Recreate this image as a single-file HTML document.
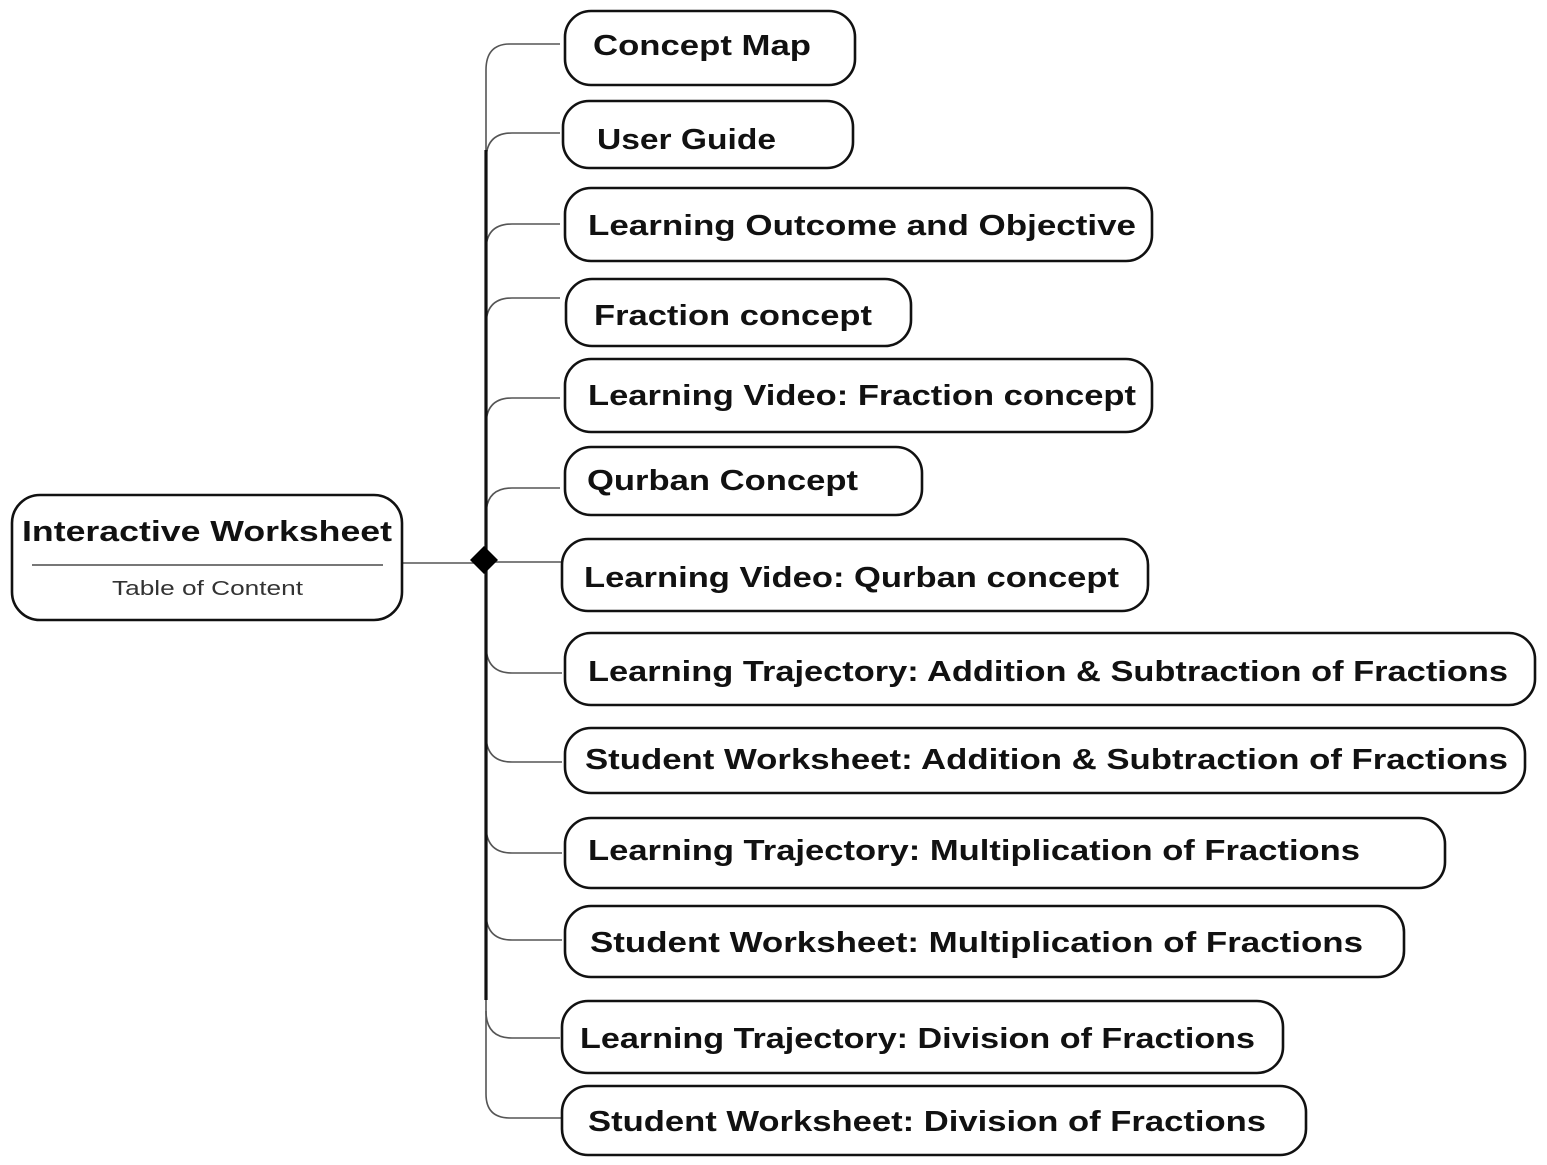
<!DOCTYPE html>
<html><head><meta charset="utf-8"><style>
html,body{margin:0;padding:0;background:#fff;width:1547px;height:1165px;overflow:hidden}
svg{display:block}
text{font-family:"Liberation Sans",sans-serif;font-weight:bold;fill:#111}
</style></head><body>
<svg width="1547" height="1165" viewBox="0 0 1547 1165" xmlns="http://www.w3.org/2000/svg">
<g fill="none" stroke="#555" stroke-width="1.6">
<path d="M560,44 L510,44 Q486,44 486,70 L486,1094 Q486,1118 510,1118 L562,1118"/>
<path d="M560,133 L512,133 Q486,133 486,160"/>
<path d="M560,224 L512,224 Q486,224 486,250"/>
<path d="M560,298 L512,298 Q486,298 486,325"/>
<path d="M560,398 L512,398 Q486,398 486,425"/>
<path d="M560,488 L512,488 Q486,488 486,515"/>
<path d="M486,645 Q486,673 512,673 L562,673"/>
<path d="M486,735 Q486,762 512,762 L562,762"/>
<path d="M486,826 Q486,853 512,853 L562,853"/>
<path d="M486,913 Q486,940 512,940 L562,940"/>
<path d="M486,1011 Q486,1038 512,1038 L560,1038"/>
<path d="M402,563 L475,563"/>
<path d="M495,562 L562,562"/>
</g>
<path d="M486,150 L486,1000" stroke="#111" stroke-width="3.2"/>
<polygon points="484,546 498,560 484,574 470,560" fill="#000"/>
<g fill="#fff" stroke="#111" stroke-width="2.6">
<rect x="12" y="495" width="390" height="125" rx="28"/>
<rect x="565" y="11" width="290" height="74" rx="26"/>
<rect x="563" y="101" width="290" height="67" rx="26"/>
<rect x="565" y="188" width="587" height="73" rx="26"/>
<rect x="566" y="279" width="345" height="67" rx="26"/>
<rect x="565" y="359" width="587" height="73" rx="26"/>
<rect x="565" y="447" width="357" height="68" rx="26"/>
<rect x="562" y="539" width="586" height="72" rx="26"/>
<rect x="565" y="633" width="970" height="72" rx="26"/>
<rect x="565" y="728" width="960" height="65" rx="26"/>
<rect x="565" y="818" width="880" height="70" rx="26"/>
<rect x="565" y="906" width="839" height="71" rx="26"/>
<rect x="562" y="1001" width="721" height="72" rx="26"/>
<rect x="562" y="1086" width="744" height="69" rx="26"/>
</g>
<line x1="32" y1="565" x2="383" y2="565" stroke="#777" stroke-width="2"/>
<g font-size="29">
<text x="22" y="541" textLength="370" lengthAdjust="spacingAndGlyphs">Interactive Worksheet</text>
<text x="593" y="55" textLength="218" lengthAdjust="spacingAndGlyphs">Concept Map</text>
<text x="597" y="149" textLength="179" lengthAdjust="spacingAndGlyphs">User Guide</text>
<text x="588" y="235" textLength="548" lengthAdjust="spacingAndGlyphs">Learning Outcome and Objective</text>
<text x="594" y="325" textLength="278" lengthAdjust="spacingAndGlyphs">Fraction concept</text>
<text x="588" y="405" textLength="548" lengthAdjust="spacingAndGlyphs">Learning Video: Fraction concept</text>
<text x="587" y="490" textLength="271" lengthAdjust="spacingAndGlyphs">Qurban Concept</text>
<text x="584" y="587" textLength="535" lengthAdjust="spacingAndGlyphs">Learning Video: Qurban concept</text>
<text x="588" y="681" textLength="920" lengthAdjust="spacingAndGlyphs">Learning Trajectory: Addition &amp; Subtraction of Fractions</text>
<text x="585" y="769" textLength="923" lengthAdjust="spacingAndGlyphs">Student Worksheet: Addition &amp; Subtraction of Fractions</text>
<text x="588" y="860" textLength="772" lengthAdjust="spacingAndGlyphs">Learning Trajectory: Multiplication of Fractions</text>
<text x="590" y="952" textLength="773" lengthAdjust="spacingAndGlyphs">Student Worksheet: Multiplication of Fractions</text>
<text x="580" y="1048" textLength="675" lengthAdjust="spacingAndGlyphs">Learning Trajectory: Division of Fractions</text>
<text x="588" y="1131" textLength="678" lengthAdjust="spacingAndGlyphs">Student Worksheet: Division of Fractions</text>
</g>
<text x="112" y="595" font-size="20" style="font-weight:normal;fill:#333" textLength="191" lengthAdjust="spacingAndGlyphs">Table of Content</text>
</svg>
</body></html>
